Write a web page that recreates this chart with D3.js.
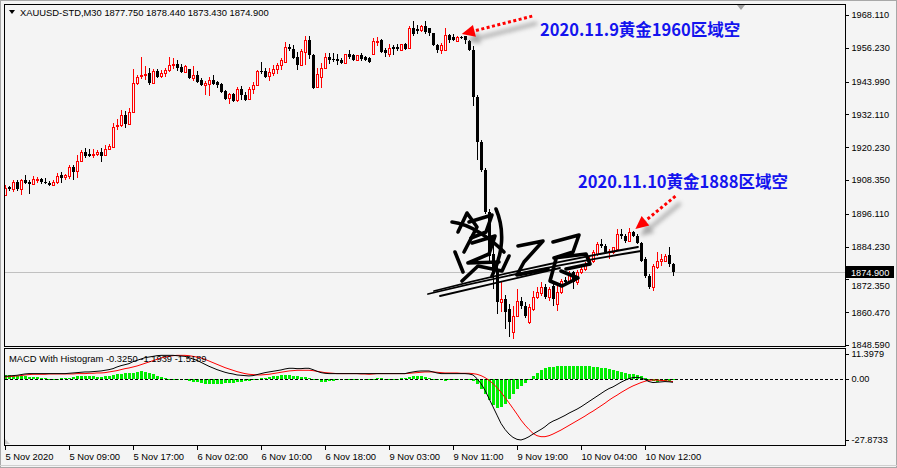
<!DOCTYPE html>
<html><head><meta charset="utf-8">
<script src="https://cdn.jsdelivr.net/npm/d3@7"></script>
<style>body{margin:0;background:#f4f4f4;overflow:hidden}svg{display:block}</style>
</head><body>
<script>
// ---------- DATA ----------
const opens = [
1902.86,1905.75,1905.15,1907.68,1905.03,1908.52,1907.80,1906.83,1908.40,1908.76,
1907.80,1907.43,1906.59,1907.55,1910.32,1909.60,1909.84,1913.21,1911.53,1915.26,
1918.51,1917.67,1917.43,1917.67,1918.51,1917.31,1919.59,1920.44,1927.78,1928.26,
1931.88,1928.62,1932.96,1943.43,1945.84,1946.32,1946.93,1943.31,1947.89,1945.84,
1947.05,1948.01,1949.94,1950.54,1949.33,1947.53,1948.61,1945.12,1946.44,1944.40,
1942.71,1943.07,1944.64,1943.67,1943.07,1940.42,1937.90,1939.58,1937.17,1941.39,
1939.22,1937.53,1941.27,1942.83,1947.89,1947.65,1945.96,1947.05,1948.49,1950.06,
1951.26,1956.56,1955.84,1952.95,1949.94,1954.63,1959.09,1953.55,1941.87,1945.50,
1948.85,1952.94,1952.34,1952.10,1951.98,1950.65,1953.90,1953.66,1951.98,1953.66,
1952.94,1952.46,1954.02,1958.24,1959.08,1955.47,1954.02,1956.43,1956.43,1955.59,
1957.76,1956.07,1963.50,1963.05,1962.69,1964.26,1963.29,1961.49,1957.27,1955.35,
1955.47,1960.89,1960.16,1958.72,1960.16,1960.40,1958.72,1955.47,1938.50,1922.25,
1912.14,1896.62,1881.45,1876.03,1864.12,1865.20,1861.59,1853.28,1859.06,1864.48,
1862.67,1856.89,1861.59,1865.92,1867.37,1869.53,1865.92,1869.89,1863.39,1867.73,
1872.06,1871.34,1874.95,1871.34,1874.95,1876.03,1877.84,1878.92,1881.45,1885.06,
1884.34,1882.17,1882.17,1883.25,1888.67,1887.95,1886.14,1889.39,1887.95,1885.42,
1879.64,1873.51,1869.53,1876.76,1878.92,1878.92,1881.09,1877.75];
const highs = [
1906.47,1906.35,1908.52,1908.40,1908.76,1910.32,1908.52,1909.96,1909.60,1909.24,
1909.24,1907.92,1908.28,1910.93,1911.17,1910.56,1913.94,1913.82,1917.55,1919.11,
1919.84,1919.59,1919.59,1919.23,1919.84,1921.04,1921.40,1928.99,1930.55,1933.56,
1933.20,1934.28,1948.61,1946.44,1952.95,1949.69,1948.85,1948.61,1948.73,1948.25,
1949.09,1952.95,1952.46,1951.98,1950.54,1949.82,1948.73,1949.69,1947.89,1945.36,
1944.28,1945.48,1946.20,1944.28,1943.31,1940.91,1939.70,1939.82,1941.87,1942.23,
1940.06,1941.87,1943.67,1948.25,1951.14,1949.09,1948.85,1949.82,1950.90,1952.70,
1958.36,1957.52,1957.16,1954.87,1955.71,1960.65,1960.65,1953.91,1949.09,1950.65,
1954.26,1954.26,1954.50,1954.02,1952.70,1954.14,1955.59,1954.14,1953.78,1954.38,
1953.42,1952.94,1959.92,1960.16,1959.32,1956.31,1957.51,1957.27,1957.64,1957.76,
1958.12,1964.00,1966.00,1964.50,1964.50,1965.82,1963.53,1961.73,1957.51,1958.00,
1963.29,1961.25,1961.37,1960.52,1960.40,1960.65,1959.20,1956.92,1939.23,1922.98,
1912.87,1897.70,1885.06,1880.37,1871.34,1866.64,1863.39,1862.67,1868.81,1865.92,
1864.12,1863.39,1868.09,1869.53,1871.34,1870.62,1869.53,1870.62,1869.89,1872.42,
1873.14,1875.31,1875.31,1875.67,1876.76,1878.56,1880.37,1882.89,1885.78,1886.87,
1885.06,1883.25,1883.98,1890.48,1890.48,1888.67,1890.84,1889.75,1888.67,1885.78,
1880.37,1874.23,1877.84,1882.17,1881.45,1881.45,1883.98,1878.44];
const lows = [
1902.50,1904.30,1904.06,1904.54,1902.86,1907.07,1903.22,1906.47,1907.31,1906.95,
1907.07,1906.23,1906.11,1906.95,1907.43,1908.28,1908.76,1908.52,1909.00,1915.02,
1916.22,1916.71,1916.22,1916.95,1914.78,1917.19,1919.11,1920.08,1926.46,1927.54,
1927.06,1928.50,1932.84,1942.83,1944.88,1944.52,1942.59,1943.20,1945.12,1945.12,
1945.48,1947.41,1948.73,1947.65,1946.93,1947.05,1945.00,1944.28,1943.43,1942.23,
1938.98,1938.62,1942.59,1941.75,1939.82,1937.41,1935.73,1936.45,1936.45,1937.41,
1937.05,1937.41,1939.58,1942.71,1946.68,1945.12,1944.04,1945.84,1946.81,1948.01,
1951.14,1955.23,1952.22,1948.25,1949.69,1949.82,1952.10,1941.39,1941.63,1941.62,
1948.61,1950.29,1951.01,1950.17,1950.41,1950.41,1952.10,1951.62,1951.62,1951.62,
1951.62,1950.89,1953.90,1957.03,1954.50,1952.82,1952.94,1953.66,1955.23,1955.35,
1955.59,1955.83,1960.40,1961.25,1962.09,1961.25,1960.65,1956.91,1954.50,1953.90,
1955.23,1958.12,1958.72,1958.48,1959.44,1957.76,1955.00,1935.25,1915.75,1911.42,
1895.89,1878.92,1868.81,1859.78,1860.51,1854.37,1851.48,1850.76,1858.70,1861.59,
1858.34,1856.17,1860.87,1865.20,1866.28,1865.20,1864.48,1862.67,1860.87,1867.01,
1870.26,1870.62,1868.81,1870.26,1874.23,1875.31,1877.12,1878.20,1880.73,1883.62,
1881.45,1879.64,1881.45,1882.53,1886.87,1885.42,1885.78,1887.59,1885.06,1878.56,
1872.78,1868.81,1868.09,1876.03,1877.12,1878.56,1876.76,1873.43];
const closes = [
1905.51,1904.91,1907.68,1904.91,1908.40,1907.43,1906.83,1908.76,1908.88,1907.55,
1907.19,1906.59,1907.80,1909.96,1909.24,1910.20,1913.21,1911.17,1915.26,1918.63,
1917.19,1917.19,1917.91,1918.63,1917.19,1919.72,1920.80,1927.54,1928.38,1931.88,
1928.75,1932.96,1943.43,1945.60,1946.44,1946.81,1943.31,1947.77,1945.48,1947.17,
1948.25,1949.94,1950.54,1948.85,1947.41,1949.57,1945.12,1946.44,1943.92,1942.59,
1943.31,1944.64,1943.19,1942.59,1940.18,1937.78,1939.58,1936.93,1941.27,1939.10,
1937.41,1941.39,1942.83,1947.89,1947.29,1945.48,1947.53,1948.61,1950.06,1951.86,
1956.44,1955.84,1952.70,1949.82,1955.11,1959.09,1953.55,1941.63,1946.68,1948.85,
1952.94,1951.98,1951.74,1951.62,1950.65,1953.90,1952.94,1951.98,1953.54,1952.34,
1951.98,1951.25,1958.72,1958.84,1954.75,1954.26,1956.07,1955.71,1955.71,1957.51,
1955.83,1963.50,1961.13,1962.45,1964.14,1962.09,1961.73,1957.15,1955.35,1957.27,
1960.89,1958.96,1959.20,1960.28,1959.68,1958.96,1955.47,1938.50,1922.25,1912.14,
1896.62,1880.73,1874.23,1864.12,1865.20,1860.51,1856.89,1859.06,1864.48,1862.67,
1859.06,1862.31,1865.92,1867.73,1869.53,1865.92,1868.81,1865.20,1867.73,1871.70,
1871.34,1874.23,1871.34,1874.95,1876.03,1877.84,1879.64,1882.17,1885.06,1884.34,
1882.17,1882.53,1883.98,1888.67,1887.95,1886.14,1889.39,1887.95,1885.42,1878.92,
1873.51,1869.53,1877.12,1878.92,1879.64,1880.73,1877.84,1874.90];

const macdLine = [
1.23,1.38,1.53,1.68,1.99,2.29,2.44,2.44,2.44,2.44,
2.44,2.44,2.44,2.44,2.44,2.44,2.59,2.74,2.89,3.05,
3.20,3.20,3.35,3.50,3.65,3.96,4.26,4.71,5.47,6.08,
6.53,6.99,7.90,8.50,9.11,9.72,10.02,10.32,10.63,10.78,
10.78,10.78,10.78,10.63,10.47,10.32,9.72,9.11,8.50,7.59,
6.68,5.78,5.02,4.26,3.65,3.05,2.59,2.29,1.83,1.68,
1.53,1.38,1.53,1.99,2.44,2.89,3.20,3.50,3.80,4.11,
4.56,4.87,4.87,4.71,4.71,4.87,4.87,4.26,3.50,2.89,
2.59,2.44,2.44,2.44,2.44,2.44,2.44,2.44,2.44,2.44,
2.44,2.44,2.44,2.44,2.44,2.44,2.44,2.44,2.44,2.44,
2.44,2.89,3.20,3.50,3.65,3.65,3.65,3.20,2.74,2.44,
2.44,2.44,2.44,2.44,2.44,2.44,2.29,1.83,0.17,-2.11,
-5.14,-8.93,-12.72,-16.51,-20.30,-23.03,-25.15,-26.67,-27.58,-27.87,
-27.27,-26.36,-25.15,-24.09,-23.03,-21.82,-20.30,-19.24,-18.48,-17.57,
-16.66,-15.60,-14.69,-13.78,-12.72,-11.51,-10.29,-9.08,-7.87,-6.66,
-5.44,-4.38,-3.62,-2.56,-1.50,-0.59,0.17,0.62,0.77,0.47,
-0.29,-1.20,-1.65,-1.50,-1.35,-1.20,-1.30,-1.52];
const signalLine = [
0.92,1.08,1.23,1.38,1.53,1.83,1.99,2.14,2.14,2.14,
2.14,2.29,2.29,2.29,2.29,2.29,2.29,2.29,2.44,2.44,
2.44,2.59,2.59,2.74,2.74,2.89,3.20,3.50,3.80,4.26,
4.71,5.02,5.47,5.93,6.53,7.14,7.75,8.35,8.96,9.57,
10.02,10.32,10.63,10.78,10.78,10.78,10.63,10.32,10.02,9.57,
8.96,8.20,7.44,6.68,5.93,5.17,4.56,3.96,3.35,2.89,
2.44,2.14,1.99,1.83,1.83,1.99,2.14,2.44,2.74,3.05,
3.35,3.65,3.80,3.96,3.96,3.96,3.96,3.80,3.50,3.20,
2.89,2.74,2.59,2.44,2.44,2.44,2.44,2.44,2.44,2.29,
2.29,2.14,2.29,2.44,2.44,2.44,2.44,2.44,2.44,2.44,
2.44,2.59,2.74,2.89,3.05,3.20,3.20,3.20,3.05,2.89,
2.74,2.74,2.74,2.74,2.59,2.59,2.59,2.44,2.14,1.53,
0.62,-0.59,-2.11,-3.93,-6.05,-8.48,-10.90,-13.48,-16.06,-18.78,
-21.06,-23.03,-24.85,-25.91,-26.36,-26.36,-25.91,-25.15,-24.24,-23.33,
-22.27,-21.21,-20.15,-19.09,-18.03,-16.96,-15.75,-14.69,-13.48,-12.27,
-11.05,-9.69,-8.48,-7.41,-6.20,-5.14,-4.08,-3.17,-2.41,-1.65,
-1.05,-0.59,-0.50,-0.55,-0.65,-0.80,-1.00,-1.19];
const histogram = [
1.99,1.68,1.53,1.38,1.23,1.38,1.08,0.92,0.92,0.62,
0.32,0.17,0.01,0.17,0.32,0.32,0.62,0.92,1.23,1.38,
1.53,1.38,1.23,1.08,0.92,1.23,1.53,1.99,2.44,2.44,
2.59,2.74,2.89,3.05,3.50,3.20,2.74,2.14,1.53,0.92,
0.47,0.17,0.01,0.01,0.01,-0.29,-0.74,-1.20,-1.50,-1.80,
-2.11,-2.11,-2.11,-2.11,-2.11,-1.96,-1.80,-1.65,-1.50,-1.20,
-1.05,-0.74,-0.44,0.01,0.32,0.62,0.92,1.23,1.53,1.83,
1.99,1.83,1.53,1.23,1.08,0.92,0.62,0.01,-0.59,-1.20,
-1.20,-0.90,-0.74,-0.59,-0.44,-0.29,-0.29,-0.29,-0.29,-0.14,
-0.14,0.01,0.17,0.32,0.32,0.17,0.01,0.01,0.17,0.32,
0.62,0.92,1.23,1.38,1.23,0.92,0.62,0.01,-0.29,-0.59,
-0.90,-0.59,-0.44,-0.29,-0.29,-0.14,-0.29,-0.90,-2.11,-4.38,
-6.66,-9.38,-11.96,-13.17,-12.72,-11.20,-8.93,-6.66,-4.69,-3.02,
-1.65,-0.29,1.23,2.74,3.96,4.87,5.47,5.62,5.78,5.78,
5.78,5.78,5.78,5.78,5.78,5.78,5.78,5.62,5.47,5.17,
4.87,4.41,3.96,3.50,3.05,2.74,2.44,2.14,1.68,1.23,
0.47,-0.44,-1.05,-1.20,-1.05,-0.90,-0.74,-0.33];

const priceTicks = [1968.11,1956.23,1943.99,1932.11,1920.23,1908.35,1896.11,1884.23,1872.35,1860.47,1848.59];
const priceTickLabels = ["1968.110","1956.230","1943.990","1932.110","1920.230","1908.350","1896.110","1884.230","1872.350","1860.470","1848.590"];
const priceMin = 1848.59, priceMax = 1968.11;
const lastPrice = 1874.90, lastPriceLabel = "1874.900";
const macdMin = -27.8733, macdMax = 11.3979;
const macdTicks = [11.3979, 0, -27.8733];
const macdTickLabels = ["11.3979", "0.00", "-27.8733"];
const timeTickBars = [0,16,32,48,64,80,96,112,128,144,160];
const timeTickLabels = ["5 Nov 2020","5 Nov 09:00","5 Nov 17:00","6 Nov 02:00","6 Nov 10:00","6 Nov 18:00","9 Nov 03:00","9 Nov 11:00","9 Nov 19:00","10 Nov 04:00","10 Nov 12:00"];
const headerText = "XAUUSD-STD,M30  1877.750 1878.440 1873.430 1874.900";
const macdTitle = "MACD With Histogram -0.3250 -1.1939 -1.5189";
const noteTexts = ["2020.11.9黄金1960区域空", "2020.11.10黄金1888区域空"];
const noteBars = [133.75, 143.25];
const notePrices = [1960.4, 1905.5];
const arrowTipBars = [114.2, 157.6];
const arrowTipPrices = [1961.2, 1890.6];
const arrowTailBars = [131.8, 167.6];
const arrowTailPrices = [1967.7, 1902.5];

// ---------- LAYOUT ----------
const W = 897, H = 468;
const L = 4, R = 845, mainTop = 4, mainBot = 346, macdTop = 348, macdBot = 445;
const BG = "#f4f4f4";
const FONT = "'Liberation Sans', Arial, sans-serif";

const svg = d3.select("body").append("svg").attr("width", W).attr("height", H);
const defs = svg.append("defs");
defs.append("clipPath").attr("id","clipMain").append("rect").attr("x",L+1).attr("y",mainTop+1).attr("width",R-L-1).attr("height",mainBot-mainTop-1);
defs.append("clipPath").attr("id","clipMacd").append("rect").attr("x",L+1).attr("y",macdTop+1).attr("width",R-L-1).attr("height",macdBot-macdTop-1);
defs.append("clipPath").attr("id","clipBelowBox").append("rect").attr("x",R).attr("y",0).attr("width",W-R).attr("height",H);
const blur = defs.append("filter").attr("id","blur").attr("x","-50%").attr("y","-50%").attr("width","200%").attr("height","200%");
blur.append("feGaussianBlur").attr("stdDeviation", 2.2);

svg.append("rect").attr("width", W).attr("height", H).attr("fill", BG);
svg.append("rect").attr("x",0.5).attr("y",0.5).attr("width",W-1).attr("height",H-1).attr("fill","none").attr("stroke","#a8a8a8");
svg.append("line").attr("x1",0).attr("x2",W).attr("y1",465.5).attr("y2",465.5).attr("stroke","#d0d0d0");

const n = closes.length;
const x = d3.scaleLinear().domain([0, n - 1]).range([5, 5 + 4 * (n - 1)]);
const y = d3.scaleLinear().domain([priceMin, priceMax]).range([345, 15]);
const ym = d3.scaleLinear().domain([macdMin, macdMax]).range([440, 354]);

// ---------- MAIN PANEL ----------
const main = svg.append("g").attr("clip-path","url(#clipMain)");
main.append("line").attr("x1",L+1).attr("x2",R).attr("y1",Math.round(y(lastPrice))+0.5).attr("y2",Math.round(y(lastPrice))+0.5)
  .attr("stroke","#c0c0c0");

const cg = main.append("g").attr("shape-rendering","crispEdges");
for (let i = 0; i < n; i++) {
  const cx = Math.round(x(i));
  const bull = closes[i] >= opens[i];
  const col = bull ? "#ff0000" : "#000000";
  const yh = Math.round(y(highs[i])), yl = Math.round(y(lows[i]));
  cg.append("rect").attr("x",cx).attr("y",yh).attr("width",1).attr("height",Math.max(yl-yh,1)).attr("fill",col);
  const top = Math.round(y(Math.max(opens[i],closes[i])));
  const bot = Math.round(y(Math.min(opens[i],closes[i])));
  const h = Math.max(bot - top, 1);
  cg.append("rect").attr("x",cx-1).attr("y",top).attr("width",3).attr("height",h+(bull?1:0)).attr("fill",col);
  if (bull && h > 1) cg.append("rect").attr("x",cx).attr("y",top+1).attr("width",1).attr("height",h-1).attr("fill",BG);
}

// signature overlay (decorative handwriting)
const sig = main.append("g").attr("fill","none").attr("stroke","#000").attr("stroke-linecap","round").attr("stroke-linejoin","round");
const sigThin = ["M428,294 Q525,270 641,251","M434,291 Q540,264 638,247 L600,254","M440,296 Q500,282 560,268"];
const sigThick = [
 "M458,232 L467,213 L477,227 L464,252",
 "M452,222 C470,224 490,238 504,252",
 "M469,222 L492,215 L486,232 L471,238",
 "M472,243 L495,236 L489,254 L468,263 L499,262",
 "M462,281 L478,266 L502,271 L509,256",
 "M496,209 C505,230 503,254 492,276",
 "M455,252 L463,272",
 "M518,246 L543,241 L524,262 L517,275 L548,269",
 "M553,242 L579,235 L573,252 L554,258 L586,254 L590,264 L566,269",
 "M556,259 L550,281 L562,286 L578,278 L561,271"];
sigThin.forEach(p => sig.append("path").attr("d",p).attr("stroke-width",1.8));
sigThick.forEach(p => sig.append("path").attr("d",p).attr("stroke-width",3.6));

// arrows + notes
for (let k = 0; k < noteTexts.length; k++) {
  const tip = [x(arrowTipBars[k]), y(arrowTipPrices[k])];
  const tail = [x(arrowTailBars[k]), y(arrowTailPrices[k])];
  const dx = tip[0]-tail[0], dy = tip[1]-tail[1], len = Math.hypot(dx,dy);
  const ux = dx/len, uy = dy/len, px = -uy, py = ux;
  const hl = 13, hw = 6;
  const base = [tip[0]-ux*hl, tip[1]-uy*hl];
  const head = [tip, [base[0]+px*hw, base[1]+py*hw], [base[0]-px*hw, base[1]-py*hw]];
  const sh = main.append("g").attr("transform","translate(5,7)").attr("filter","url(#blur)").attr("opacity",0.55);
  sh.append("line").attr("x1",tail[0]).attr("y1",tail[1]).attr("x2",base[0]).attr("y2",base[1]).attr("stroke","#7a7a7a").attr("stroke-width",4);
  sh.append("polygon").attr("points",head.map(p=>p.join(",")).join(" ")).attr("fill","#6a6a6a");
  main.append("line").attr("x1",tail[0]).attr("y1",tail[1]).attr("x2",base[0]).attr("y2",base[1])
    .attr("stroke","#ff0000").attr("stroke-width",3).attr("stroke-dasharray","3,2.5");
  main.append("polygon").attr("points",head.map(p=>p.join(",")).join(" ")).attr("fill","#ff0000");
  main.append("text").attr("x",x(noteBars[k])).attr("y",y(notePrices[k]))
    .attr("font-family","'Noto Sans CJK SC', sans-serif").attr("font-weight","bold").attr("font-size","16.5px")
    .attr("fill","#1414ee").text(noteTexts[k]);
}

// header
svg.append("polygon").attr("points","9,10 15,10 12,14").attr("fill","#000");
svg.append("text").attr("x",20).attr("y",16).attr("font-family",FONT).attr("font-size","9.4px").attr("fill","#000").text(headerText);
svg.append("polygon").attr("points","737,5 745,5 741,10").attr("fill","#a0a0a0");

// ---------- MACD PANEL ----------
const mg = svg.append("g").attr("clip-path","url(#clipMacd)");
mg.append("g").attr("shape-rendering","crispEdges").selectAll("rect").data(histogram).join("rect")
  .attr("x",(d,i)=>Math.round(x(i))-1).attr("width",3)
  .attr("y",d=>Math.round(Math.min(ym(d), ym(0))))
  .attr("height",d=>Math.max(Math.round(Math.abs(ym(d)-ym(0))),1))
  .attr("fill","#00ee00");
mg.append("line").attr("x1",L+1).attr("x2",R).attr("y1",Math.round(ym(0))+0.5).attr("y2",Math.round(ym(0))+0.5)
  .attr("stroke","#000").attr("stroke-dasharray","3,2");
const lineGen = d3.line().x((d,i)=>x(i)).y(d=>ym(d));
mg.append("path").attr("d",lineGen(signalLine)).attr("fill","none").attr("stroke","#ff0000").attr("stroke-width",1);
mg.append("path").attr("d",lineGen(macdLine)).attr("fill","none").attr("stroke","#000").attr("stroke-width",1);
svg.append("text").attr("x",9).attr("y",362).attr("font-family",FONT).attr("font-size","9.4px").attr("fill","#000").text(macdTitle);
svg.append("polygon").attr("points","5,439 5,444 10,444").attr("fill","#c8c8c8");

// ---------- FRAMES ----------
const fr = svg.append("g").attr("shape-rendering","crispEdges").attr("stroke","#000").attr("fill","none");
fr.append("rect").attr("x",L+0.5).attr("y",mainTop+0.5).attr("width",R-L).attr("height",mainBot-mainTop);
fr.append("rect").attr("x",L+0.5).attr("y",macdTop+0.5).attr("width",R-L).attr("height",macdBot-macdTop);

// ---------- AXES ----------
function styleAxis(g){
  g.select(".domain").remove();
  g.selectAll("line").attr("stroke","#000").attr("shape-rendering","crispEdges");
  g.selectAll("text").attr("font-family",FONT).attr("fill","#000");
}
const lp = Math.round(y(lastPrice));
const pa = svg.append("g").attr("transform",`translate(${R+0.5},0)`)
  .call(d3.axisRight(y).tickValues(priceTicks).tickFormat((d,i)=>priceTickLabels[i]).tickSize(3).tickPadding(3))
  .call(styleAxis);
pa.selectAll("text").attr("font-size","9.2px");
// the tick label hidden behind the last-price box is shifted just below it
pa.selectAll(".tick").filter(d => Math.abs(y(d) - lp) < 12).select("text").attr("dy","0.95em");
svg.append("rect").attr("x",R+1).attr("y",lp-6).attr("width",48).attr("height",12).attr("fill","#000");
svg.append("text").attr("x",R+6).attr("y",lp+3.5).attr("font-family",FONT).attr("font-size","9.2px").attr("fill","#fff").text(lastPriceLabel);

svg.append("g").attr("transform",`translate(${R+0.5},0)`)
  .call(d3.axisRight(ym).tickValues(macdTicks).tickFormat((d,i)=>macdTickLabels[i]).tickSize(3).tickPadding(3))
  .call(styleAxis).selectAll("text").attr("font-size","9.2px");

svg.append("g").attr("transform",`translate(0,${macdBot+0.5})`)
  .call(d3.axisBottom(x).tickValues(timeTickBars).tickFormat((d,i)=>timeTickLabels[i]).tickSize(4).tickPadding(4))
  .call(styleAxis).selectAll("text").attr("font-size","9.4px").attr("text-anchor","start").attr("dx","0");
</script>
</body></html>
